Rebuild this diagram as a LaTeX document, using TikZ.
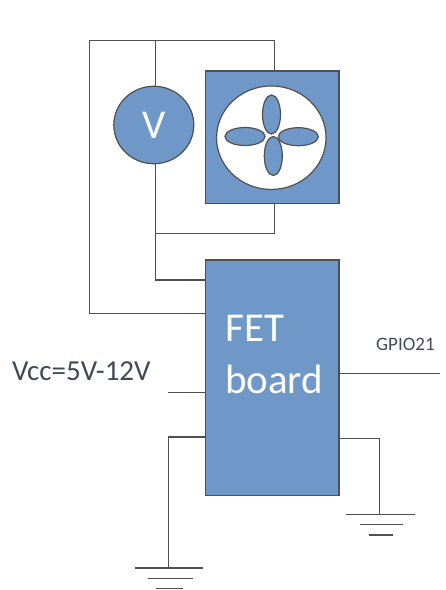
\documentclass[tikz,border=0pt]{standalone}
\usepackage{xcolor}
\usepackage{fontspec}
\setmainfont{Carlito}
\usetikzlibrary{shapes.geometric}
\definecolor{BoardBlue}{HTML}{6F98C8}
\definecolor{WireGray}{HTML}{505050}
\definecolor{LabelGray}{HTML}{3F4A56}
\begin{document}
\begin{tikzpicture}[
  x=1pt, y=-1pt,
  box/.style={rectangle, draw=WireGray, line width=1.5pt, fill=BoardBlue, inner sep=0pt, minimum width=133.5pt},
  blade/.style={ellipse, draw=WireGray, line width=1.2pt, fill=BoardBlue, inner sep=0pt},
  wire/.style={draw=WireGray, line width=1.5pt},
  bigtext/.style={text=white, anchor=base west, inner sep=0pt, font=\fontsize{41}{48}\selectfont}
]
\useasboundingbox (0,0) rectangle (446,590);
\node[box, minimum height=132.5pt] (fan) at (272,137.2) {};
\node[box, minimum height=235.5pt] (fet) at (272,377.7) {};
\node[ellipse, draw=WireGray, line width=1.2pt, fill=white, inner sep=0pt, minimum width=109.5pt, minimum height=103.5pt] (hub) at (271.3,137.7) {};
\node[blade, minimum width=18pt, minimum height=39pt] (bladeN) at (271.5,114.5) {};
\node[blade, minimum width=18pt, minimum height=39pt] (bladeS) at (273.3,156) {};
\node[blade, minimum width=40pt, minimum height=18pt] (bladeW) at (245,136.5) {};
\node[blade, minimum width=40pt, minimum height=18pt] (bladeE) at (298.3,136.7) {};
\node[ellipse, draw=WireGray, line width=1.2pt, fill=BoardBlue, inner sep=0pt, minimum width=80pt, minimum height=77.5pt, text=white, font=\fontsize{41}{48}\selectfont] (volt) at (153.8,125) {V};
\node[bigtext] (fetlabel) at (225,341.7) {FET};
\node[bigtext] (boardlabel) at (225,393.3) {board};
\node[text=LabelGray, anchor=base west, inner sep=0pt, font=\fontsize{29}{32}\selectfont] (vcclabel) at (12,380) {Vcc=5V-12V};
\node[text=LabelGray, anchor=base west, inner sep=0pt, font=\fontsize{19}{22}\selectfont] (gpiolabel) at (376,350.5) {GPIO21};
\coordinate (topleft) at (89.7,40.5);
\coordinate (topvolt) at (155.3,40.5);
\coordinate (topfan) at (274.7,40.5);
\coordinate (midvolt) at (155.3,233.3);
\coordinate (midfan) at (274.7,233.3);
\coordinate (feedfet) at (155.3,280);
\coordinate (backfet) at (89.7,313.5);
\coordinate (vccend) at (168.3,392.3);
\coordinate (gpioend) at (440,373.3);
\coordinate (gndleft) at (168.3,568);
\coordinate (gndright) at (379.3,514.3);
% wires round the fan and the meter
\draw[wire] (fet.west |- backfet) -- (backfet) -- (topleft) -- (topfan) -- (topfan |- fan.north);
\draw[wire] (topvolt) -- (topvolt |- volt.north);
\draw[wire] (midvolt |- volt.south) -- (midvolt) -- (feedfet) -- (fet.west |- feedfet);
\draw[wire] (midvolt) -- (midfan) -- (midfan |- fan.south);
% board pins
\draw[wire] (vccend) -- (fet.west |- vccend);
\draw[wire] (fet.east |- gpioend) -- (gpioend);
\draw[wire] (fet.west |- 0,437) -- (gndleft |- 0,437) -- (gndleft);
\draw[wire] (fet.east |- 0,438.7) -- (gndright |- 0,438.7) -- (gndright);
% ground bars
\draw[wire] (gndleft) ++(-33.6,0) -- ++(68,0);
\draw[wire] (gndleft) ++(-20.6,10.3) -- ++(45,0);
\draw[wire] (gndleft) ++(-12.3,20.7) -- ++(26.7,0);
\draw[wire] (gndright) ++(-33.6,0) -- ++(69.3,0);
\draw[wire] (gndright) ++(-19.3,10.4) -- ++(43,0);
\draw[wire] (gndright) ++(-10.6,20.7) -- ++(24.3,0);
\end{tikzpicture}
\end{document}
